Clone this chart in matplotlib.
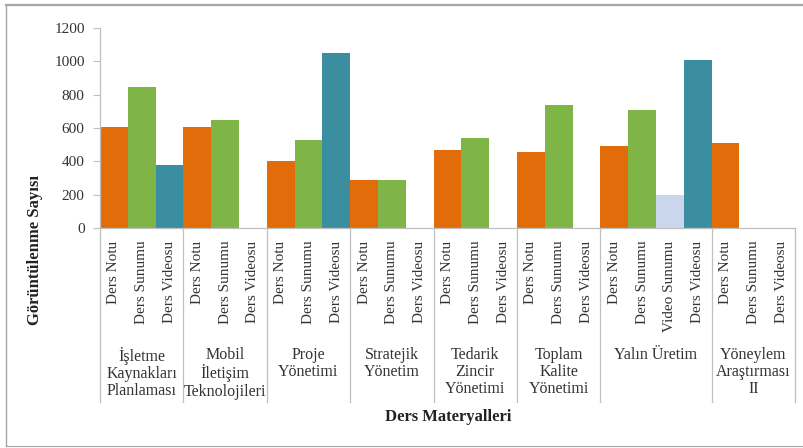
import matplotlib
matplotlib.use("Agg")
import matplotlib.pyplot as plt
from matplotlib.lines import Line2D
from matplotlib.transforms import blended_transform_factory

plt.rcParams["font.family"] = ["Liberation Serif", "DejaVu Serif"]

# Courses (outer category level)
courses = [
    "İşletme\nKaynakları\nPlanlaması",
    "Mobil\nİletişim\nTeknolojileri",
    "Proje\nYönetimi",
    "Stratejik\nYönetim",
    "Tedarik\nZincir\nYönetimi",
    "Toplam\nKalite\nYönetimi",
    "Yalın Üretim",
    "Yöneylem\nAraştırması\nII",
]

# Material types per course (inner category level)
materials = [
    ["Ders Notu", "Ders Sunumu", "Ders Videosu"],
    ["Ders Notu", "Ders Sunumu", "Ders Videosu"],
    ["Ders Notu", "Ders Sunumu", "Ders Videosu"],
    ["Ders Notu", "Ders Sunumu", "Ders Videosu"],
    ["Ders Notu", "Ders Sunumu", "Ders Videosu"],
    ["Ders Notu", "Ders Sunumu", "Ders Videosu"],
    ["Ders Notu", "Ders Sunumu", "Video Sunumu", "Ders Videosu"],
    ["Ders Notu", "Ders Sunumu", "Ders Videosu"],
]

# View counts per course, same order as the materials
views = [
    [605, 845, 375],
    [605, 650, 0],
    [400, 530, 1050],
    [285, 285, 0],
    [470, 540, 0],
    [455, 740, 0],
    [490, 710, 200, 1005],
    [510, 0, 0],
]

y_ticks = [0, 200, 400, 600, 800, 1000, 1200]

material_colors = {
    "Ders Notu": "#E36C0A",
    "Ders Sunumu": "#7EB546",
    "Ders Videosu": "#3A8E9F",
    "Video Sunumu": "#C9D6EC",
}

W, H = 804, 448
fig = plt.figure(figsize=(W / 100, H / 100), dpi=100)
fig.patch.set_facecolor("white")

left, right, top, bottom = 100, 795, 28, 228
ax = fig.add_axes([left / W, 1 - bottom / H, (right - left) / W, (bottom - top) / H])

# flatten the two-level category axis into slots
positions, labels, heights, colors, bounds, centers = [], [], [], [], [-0.5], []
pos = 0
for mats, vals in zip(materials, views):
    start = pos
    for m, v in zip(mats, vals):
        positions.append(pos)
        labels.append(m)
        heights.append(v)
        colors.append(material_colors[m])
        pos += 1
    bounds.append(pos - 0.5)
    centers.append((start + pos - 1) / 2)

ax.bar(positions, heights, width=1.0, color=colors, linewidth=0)

ax.set_xlim(-0.5, pos - 0.5)
ax.set_ylim(0, 1200)
ax.set_yticks(y_ticks)
ax.tick_params(axis="y", direction="out", length=5, width=0.8, color="#BFBFBF",
               labelsize=11, labelcolor="#333333", pad=6)

ax.set_xticks(positions)
ax.set_xticklabels(labels, rotation=90, fontsize=11, color="#333333")
ax.tick_params(axis="x", length=0, pad=9)

for s in ("top", "right"):
    ax.spines[s].set_visible(False)
for s in ("left", "bottom"):
    ax.spines[s].set_color("#BFBFBF")
    ax.spines[s].set_linewidth(0.9)

# group separators reaching down through the label area
trans = blended_transform_factory(ax.transData, ax.transAxes)
sep_bottom = (bottom - 402) / (bottom - top)
for b in bounds:
    ax.plot([b, b], [0, sep_bottom], color="#BFBFBF", lw=0.9,
            transform=trans, clip_on=False)

# course names under the material labels
name_top = (bottom - 347) / (bottom - top)
for c, name in zip(centers, courses):
    ax.text(c, name_top, name, transform=trans, ha="center", va="top",
            fontsize=11.5, color="#333333", linespacing=1.1)

fig.text(448 / W, 1 - 417 / H, "Ders Materyalleri", ha="center", va="center",
         fontsize=12, fontweight="bold", color="#222222")
fig.text(35 / W, 1 - 250 / H, "Görüntülenme Sayısı", ha="center", va="center",
         rotation=90, fontsize=12, fontweight="bold", color="#222222")

# chart frame
frame = dict(transform=fig.transFigure, color="#A6A6A6")
fig.add_artist(Line2D([6 / W, 1.0], [1 - 5 / H, 1 - 5 / H], lw=1.6, **frame))
fig.add_artist(Line2D([6 / W, 6 / W], [1 - 5 / H, 1 - 446 / H], lw=1.0, **frame))
fig.add_artist(Line2D([6 / W, 1.0], [1 - 446 / H, 1 - 446 / H], lw=0.8, **frame))

fig.savefig("out.png", dpi=100, facecolor="white")
